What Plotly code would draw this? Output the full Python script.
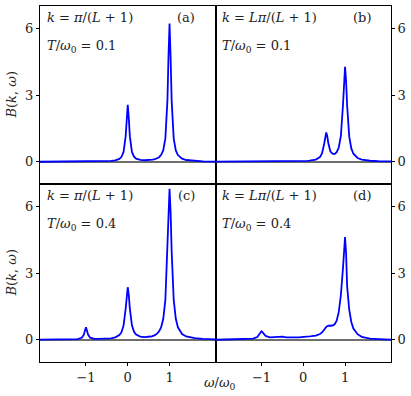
import plotly.graph_objects as go
from plotly.subplots import make_subplots

# frequency grid omega/omega_0 (denser around the peaks)
omega = [-2.1, -1.7, -1.4, -1.2, -1.1, -1.05, -1.025, -1.0, -0.975, -0.95,
         -0.9, -0.8, -0.7, -0.6, -0.5, -0.4, -0.3, -0.2, -0.15, -0.1,
         -0.05, -0.025, 0.0, 0.025, 0.05, 0.1, 0.15, 0.2, 0.3, 0.4,
         0.45, 0.5, 0.525, 0.55, 0.575, 0.6, 0.65, 0.7, 0.75, 0.8,
         0.85, 0.9, 0.95, 0.975, 1.0, 1.025, 1.05, 1.1, 1.15, 1.2,
         1.3, 1.4, 1.6, 1.8, 2.1]

# (a) k = pi/(L+1), T = 0.1
b_a = [0.0, 0.005, 0.006, 0.007, 0.007, 0.008, 0.008, 0.008, 0.008, 0.009,
       0.010, 0.012, 0.015, 0.019, 0.026, 0.038, 0.063, 0.13, 0.22, 0.44,
       1.15, 1.96, 2.56, 1.96, 1.15, 0.44, 0.23, 0.14, 0.08, 0.067,
       0.067, 0.07, 0.074, 0.078, 0.085, 0.092, 0.114, 0.146, 0.204, 0.31,
       0.52, 1.05, 2.78, 4.74, 6.21, 4.74, 2.77, 1.04, 0.51, 0.30,
       0.14, 0.078, 0.035, 0.02, 0.01]

# (b) k = L pi/(L+1), T = 0.1
b_b = [0.002, 0.003, 0.004, 0.005, 0.005, 0.005, 0.006, 0.006, 0.006, 0.006,
       0.006, 0.007, 0.008, 0.009, 0.011, 0.013, 0.015, 0.019, 0.021, 0.023,
       0.026, 0.028, 0.030, 0.032, 0.035, 0.042, 0.05, 0.06, 0.10, 0.21,
       0.38, 0.80, 1.13, 1.32, 1.15, 0.83, 0.46, 0.36, 0.35, 0.43,
       0.64, 1.16, 2.53, 3.64, 4.27, 3.64, 2.53, 1.14, 0.60, 0.36,
       0.17, 0.10, 0.046, 0.027, 0.015]

# (c) k = pi/(L+1), T = 0.4
b_c = [0.005, 0.008, 0.014, 0.032, 0.088, 0.23, 0.41, 0.56, 0.41, 0.23,
       0.093, 0.041, 0.035, 0.038, 0.047, 0.066, 0.106, 0.21, 0.34, 0.64,
       1.40, 2.01, 2.36, 2.01, 1.40, 0.65, 0.36, 0.23, 0.14, 0.12,
       0.12, 0.13, 0.135, 0.145, 0.156, 0.17, 0.21, 0.275, 0.38, 0.57,
       0.94, 1.79, 4.0, 5.77, 6.78, 5.77, 4.0, 1.79, 0.94, 0.56,
       0.26, 0.15, 0.07, 0.04, 0.02]

# (d) k = L pi/(L+1), T = 0.4
b_d = [0.0, 0.01, 0.02, 0.05, 0.12, 0.25, 0.33, 0.38, 0.34, 0.27,
       0.17, 0.11, 0.12, 0.15, 0.14, 0.11, 0.10, 0.10, 0.11, 0.11,
       0.12, 0.12, 0.12, 0.13, 0.13, 0.14, 0.15, 0.16, 0.19, 0.26,
       0.33, 0.45, 0.53, 0.58, 0.61, 0.63, 0.63, 0.64, 0.69, 0.86,
       1.25, 2.0, 3.2, 4.2, 4.62, 3.9, 2.4, 1.35, 0.8, 0.5,
       0.25, 0.13, 0.05, 0.03, 0.01]

k_labels = ["<i>k</i> = <i>π</i>/(<i>L</i> + 1)", "<i>k</i> = <i>Lπ</i>/(<i>L</i> + 1)"]
t_labels = ["<i>T</i>/<i>ω</i><sub>0</sub> = 0.1", "<i>T</i>/<i>ω</i><sub>0</sub> = 0.4"]
panel_tags = ["(a)", "(b)", "(c)", "(d)"]

FONT = "DejaVu Serif"

fig = make_subplots(rows=2, cols=2, horizontal_spacing=0, vertical_spacing=0)

series = [b_a, b_b, b_c, b_d]
for i, vals in enumerate(series):
    row, col = i // 2 + 1, i % 2 + 1
    fig.add_trace(
        go.Scatter(x=omega, y=vals, mode="lines",
                   line=dict(color="#0000ff", width=1.8),
                   showlegend=False),
        row=row, col=col)

    n = "" if i == 0 else str(i + 1)
    xd, yd = f"x{n} domain", f"y{n} domain"
    fig.add_annotation(text=k_labels[col - 1], xref=xd, yref=yd, x=0.028, y=0.933,
                       xanchor="left", yanchor="middle", showarrow=False)
    fig.add_annotation(text=t_labels[row - 1], xref=xd, yref=yd, x=0.028, y=0.775,
                       xanchor="left", yanchor="middle", showarrow=False)
    fig.add_annotation(text=panel_tags[i], xref=xd, yref=yd, x=0.895, y=0.933,
                       xanchor="right", yanchor="middle", showarrow=False)

fig.update_xaxes(range=[-2.1, 2.1], tickvals=[-1, 0, 1], showgrid=False,
                 zeroline=False, showline=True, mirror=True,
                 linecolor="black", linewidth=1,
                 ticks="outside", ticklen=3, tickcolor="black",
                 tickfont=dict(size=13))
fig.update_xaxes(showticklabels=False, ticks="", row=1)

fig.update_yaxes(range=[-1, 7], tickvals=[0, 3, 6], showgrid=False,
                 zeroline=True, zerolinecolor="#6e6e6e", zerolinewidth=1.5,
                 showline=True, mirror=True, linecolor="black", linewidth=1,
                 ticks="outside", ticklen=3, tickcolor="black",
                 tickfont=dict(size=13))
fig.update_yaxes(side="right", col=2)

for yc in (0.75, 0.25):
    fig.add_annotation(text="<i>B</i>(<i>k</i>, <i>ω</i>)", xref="paper", yref="paper",
                       x=-0.084, y=yc, textangle=-90, showarrow=False,
                       xanchor="center", yanchor="middle")
fig.add_annotation(text="<i>ω</i>/<i>ω</i><sub>0</sub>", xref="paper", yref="paper",
                   x=0.513, y=-0.059, showarrow=False,
                   xanchor="center", yanchor="middle")

fig.update_layout(
    width=411, height=396,
    margin=dict(l=40, r=14, t=5, b=34),
    plot_bgcolor="white", paper_bgcolor="white",
    font=dict(family=FONT, size=13, color="#222222"),
)

fig.write_html("out.html", config={"displayModeBar": False},
               post_script="document.body.style.margin='0';")
